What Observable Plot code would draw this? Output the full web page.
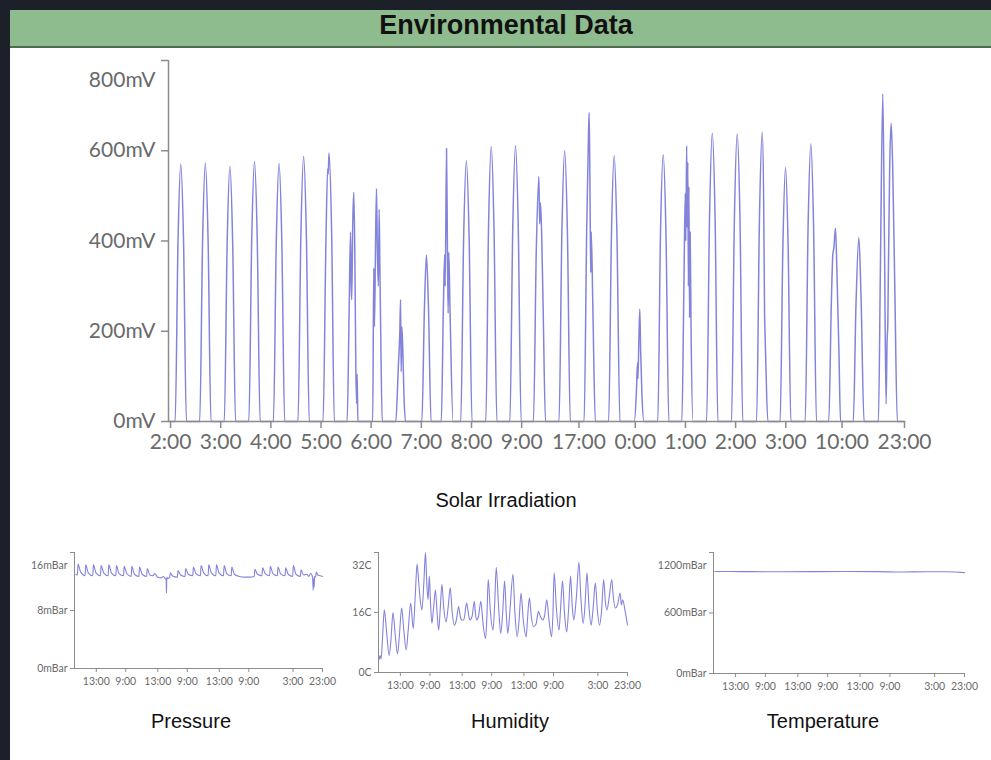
<!DOCTYPE html>
<html>
<head>
<meta charset="utf-8">
<script src="https://cdn.jsdelivr.net/npm/d3@7"></script>
<script src="https://cdn.jsdelivr.net/npm/@observablehq/plot@0.6"></script>
<style>
  html, body { margin: 0; padding: 0; background: #1c2029; width: 991px; height: 760px; overflow: hidden; }
  #page { position: absolute; left: 10px; top: 10px; width: 992px; height: 750px; background: #ffffff; }
  #header { position: absolute; left: 10px; top: 10px; width: 992px; height: 36px; background: #8fbc8f;
            border-bottom: 2px solid #4f6a4f; text-align: center; line-height: 36px;
            font: bold 27px "Liberation Sans", Arial, sans-serif; color: #111; z-index: 5; }
  .chart { position: absolute; }
  .cap { position: absolute; text-align: center; font: 20px "Liberation Sans", Arial, sans-serif; color: #111; line-height: 24px; }
</style>
</head>
<body>
<div id="page"></div>
<div id="header">Environmental Data</div>
<div id="main" class="chart" style="left:0px;top:40px;"></div>
<div class="cap" style="left:10px;top:488px;width:992px;">Solar Irradiation</div>
<div id="pres" class="chart" style="left:0px;top:540px;"></div>
<div id="hum" class="chart" style="left:340px;top:540px;"></div>
<div id="temp" class="chart" style="left:640px;top:540px;"></div>
<div class="cap" style="left:91px;top:709px;width:200px;">Pressure</div>
<div class="cap" style="left:410px;top:709px;width:200px;">Humidity</div>
<div class="cap" style="left:723px;top:709px;width:200px;">Temperature</div>
<script>
// ---------- DATA (x = hours since start) ----------
const mainTickHours = [2, 51, 100, 149, 198, 247, 296, 345, 401, 456, 505, 554, 603, 658, 719];
const mainTickLabels = ["2:00","3:00","4:00","5:00","6:00","7:00","8:00","9:00","17:00","0:00","1:00","2:00","3:00","10:00","23:00"];
const smallTickHours = [13, 105, 205, 297, 397, 489, 627, 719];
const smallTickLabels = ["13:00","9:00","13:00","9:00","13:00","9:00","3:00","23:00"];

const solarYTicks = [0, 200, 400, 600, 800];
const solarYLabels = ["0mV","200mV","400mV","600mV","800mV"];
const pressureYTicks = [0, 8, 16];
const pressureYLabels = ["0mBar","8mBar","16mBar"];
const humidityYTicks = [0, 16, 32];
const humidityYLabels = ["0C","16C","32C"];
const temperatureYTicks = [0, 600, 1200];
const temperatureYLabels = ["0mBar","600mBar","1200mBar"];

// Solar irradiation [hour, mV]
const solar = [
[0,0],
[6.5,0],[9.3,400],[12,570],[14.7,400],[17.5,0],
[30.5,0],[33.3,400],[36,573],[38.7,400],[41.5,0],
[54.5,0],[57.3,395],[60,565],[62.7,395],[65.5,0],
[78.5,0],[81.3,403],[84,576],[86.7,403],[89.5,0],
[102.5,0],[105.3,400],[108,572],[110.7,400],[113.5,0],
[126.5,0],[129.3,410],[132,587],[134.7,410],[137.5,0],
[151,0],[153.8,400],[155.5,560],[156,548],[156.8,595],[159.4,415],[162,0],
[174.5,0],[176.5,250],[177.8,420],[178.5,300],[179,270],[180,440],[181,508],[182,380],[183,120],[183.8,40],[184.3,105],[185,0],
[199.5,0],[200.5,340],[201.2,210],[202.3,400],[203.2,516],[204,380],[205,300],[205.8,470],[206.5,340],[207.3,200],[208.8,0],
[222,0],[224.5,120],[226,200],[226.7,270],[227.3,110],[228,210],[229,150],[230,60],[231.5,0],
[247.5,0],[250,250],[252,369],[254,250],[256.5,0],
[266.5,0],[268.5,250],[269.8,370],[270.3,300],[271.6,605],[272.5,380],[273.2,240],[273.8,375],[275,250],[278,0],
[285.5,0],[288.3,405],[291,578],[293.7,405],[296.5,0],
[310,0],[312.6,425],[315.3,609],[318,425],[320.8,0],
[333.5,0],[336.3,428],[339,611],[341.7,428],[344.5,0],
[356.5,0],[359.3,380],[361.8,543],[362.6,438],[363.4,485],[364.5,420],[366,250],[368.3,0],
[381.5,0],[384.3,420],[387,600],[389.7,420],[392.5,0],
[406,0],[408.5,420],[410.3,640],[411,685],[411.8,500],[412.5,330],[413,420],[414.5,260],[417,0],
[430,0],[432.7,412],[435.4,589],[438.1,412],[441,0],
[455,0],[457,60],[458.2,130],[458.6,95],[459.5,180],[460.4,249],[461.2,160],[462.5,60],[464.5,0],
[478,0],[480.6,414],[483.3,591],[486,414],[488.8,0],
[501.5,0],[503.5,300],[504.8,505],[505.4,400],[506.2,611],[506.8,430],[507.3,574],[507.9,300],[508.4,520],[509,230],[509.6,420],[510.5,200],[512.5,0],
[525.7,0],[528.5,447],[531.2,639],[534,447],[536.7,0],
[550,0],[552.8,446],[555.6,637],[558.3,446],[561,0],
[574.5,0],[577.3,450],[580,641],[581.5,470],[582.3,240],[582.6,208],[583.3,150],[585.5,0],
[597.5,0],[600.2,390],[602.8,563],[605.3,390],[608,0],
[622,0],[624.8,430],[627.5,615],[630.2,430],[633,0],
[645,0],[647.5,260],[649,370],[650,385],[651.6,429],[653,330],[655,150],[656.5,0],
[669,0],[671.5,250],[674.4,408],[676.5,280],[679.5,0],
[693.5,0],[695.5,350],[697.8,726],[699.5,380],[701,39],[702,180],[702.7,216],[703.1,300],[704.5,560],[706,661],[707.5,560],[709.5,300],[712,0],
[719,0]
];

// Pressure [hour, mBar]
const pressure = [
[-51,13.0],[-46,12.9],[-44,14.4],[-36,13.3],
[-22,12.8],[-20,14.3],[-12,13.2],
[2,12.8],[4,14.3],[12,13.2],
[26,12.8],[28,14.2],[36,13.2],
[50,12.8],[52,14.3],[60,13.2],
[74,12.8],[76,14.2],[84,13.1],
[98,12.8],[100,14.1],[108,13.1],
[122,12.7],[124,14.1],[132,13.0],
[146,12.7],[148,14.0],[156,13.0],
[170,12.7],[172,13.8],[180,12.9],
[190,12.8],[196,13.1],[204,12.6],[215,12.5],[222,12.7],[228,12.4],[231,12.3],[232,10.4],[233,12.6],[236,12.4],
[242,12.6],[244,13.2],[250,12.8],
[266,12.6],[268,13.5],[276,12.9],
[290,12.7],[292,13.8],[300,13.0],
[314,12.8],[316,14.0],[324,13.1],
[338,12.8],[340,14.2],[348,13.2],
[362,12.8],[364,14.3],[372,13.2],
[386,12.8],[388,14.3],[396,13.2],
[410,12.8],[412,14.2],[420,13.1],
[434,12.8],[436,14.0],[444,13.0],
[460,12.7],[475,12.6],[490,12.6],
[506,12.7],[508,13.7],[516,13.0],
[530,12.8],[532,13.9],[540,13.1],
[554,12.8],[556,14.1],[564,13.1],
[578,12.8],[580,14.0],[588,13.1],
[602,12.8],[604,13.9],[612,13.0],
[626,12.7],[628,14.2],[636,13.0],
[650,12.7],[652,13.6],[660,12.9],
[670,13.0],[676,12.7],[682,13.1],[688,12.6],[690,10.8],[691,12.4],[693,11.2],[694,12.7],[697,12.6],[700,13.3],[704,12.9],[712,12.8],[719,12.7]
];

// Humidity [hour, C]
const humidity = [
[-53,3.5],[-50,4.5],[-47,3.6],[-42,10],[-37,16.7],[-30,11],[-22,4.5],[-16,9],[-10,16],[-3,10],[4,5],[10,10],[17,17.2],[24,11],[31,6],[38,12],[45,18.5],[53,11.7],[59,20],[65,28.9],[70,24],[74,19.9],[80,16.7],[86,24],[91,32],[95,24],[99,19.4],[103,25.7],[107,18],[111,13.1],[116,17],[122,22],[127,16],[132,11.3],[137,17],[142,23.5],[148,17],[155,13.5],[161,17],[168,22.6],[174,16],[181,12.6],[187,14],[194,17.6],[199,15],[204,14],[210,14],[219,18.5],[224,16],[229,14],[236,15],[243,19],[246,16],[250,14],[256,15],[263,19],[270,13],[278,9],[282,15],[286,24.8],[293,16],[301,11.3],[306,18],[311,28],[318,18],[325,10.4],[331,16],[337,24.4],[342,16],[347,10.4],[354,17],[363,26.2],[369,16],[376,9.5],[382,14],[388,21.2],[395,14],[404,9.5],[408,14],[414,19.9],[420,15],[427,12.2],[435,13],[442,16.3],[448,15],[455,14],[461,15],[468,19.4],[475,14],[483,9.5],[487,15],[491,26.6],[498,17],[506,11.3],[511,17],[517,24.4],[523,16],[530,10.8],[536,17],[542,25.7],[547,18],[552,14],[560,20],[568,29.4],[574,20],[581,13.1],[587,18],[593,26.6],[599,18],[606,12.6],[612,17],[619,23.9],[625,17],[632,12.6],[638,16],[645,24.8],[650,19],[655,16.7],[662,20],[670,24.8],[675,20],[681,17.2],[688,18],[696,21.2],[700,18],[704,19.4],[711,16.7],[719,12.6]
];

// Temperature panel (values in mBar as labelled) [hour, value]
const temperature = [
[-51,1012],[0,1011],[60,1010],[150,1009],[250,1010],[350,1011],[450,1010],[520,1006],[600,1009],[660,1009],[690,1006],[705,1003],[719,1000]
];

// ---------- CHART BUILDER ----------
const LINE = "#8383dc";
const AXIS = "#8c8c8c";
const TEXT = "#6a6a6a";

function chart(o) {
  const yLab = new Map(o.yTicks.map((t, i) => [t, i === o.yTicks.length - 1 ? "" : o.yLabels[i]]));
  const xLab = new Map(o.xTicks.map((t, i) => [t, o.xLabels[i]]));
  const topVal = o.yTicks[o.yTicks.length - 1];
  const topText = o.yLabels[o.yLabels.length - 1];
  return Plot.plot({
    width: o.width, height: o.height,
    marginLeft: o.ml, marginRight: o.mr, marginTop: o.mt, marginBottom: o.mb,
    x: {type: "linear", domain: o.xDomain},
    y: {type: "linear", domain: [0, topVal]},
    style: {fontFamily: "Lato, sans-serif", fontSize: o.font + "px", background: "transparent", overflow: "visible"},
    marks: [
      Plot.line(o.data, {x: d => d[0], y: d => d[1], curve: "monotone-x", stroke: LINE, strokeWidth: o.sw}),
      Plot.ruleX([o.xDomain[0]], {stroke: AXIS, strokeWidth: o.aw}),
      Plot.ruleY([0], {stroke: AXIS, strokeWidth: o.aw}),
      Plot.axisX({ticks: o.xTicks, tickFormat: d => xLab.get(d), tickSize: o.tick, tickPadding: o.xpad,
                  stroke: AXIS, strokeWidth: o.aw, fill: TEXT, label: null, fontSize: o.xfont}),
      Plot.axisY({ticks: o.yTicks, tickFormat: d => yLab.get(d), tickSize: o.tick, tickPadding: o.ypad,
                  stroke: AXIS, strokeWidth: o.aw, fill: TEXT, label: null, fontSize: o.yfont}),
      Plot.text([topText], {y: [topVal], text: d => d, frameAnchor: "left", textAnchor: "end",
                  dx: -(o.tick + o.ypad), dy: o.topDy, fill: TEXT, fontSize: o.yfont})
    ]
  });
}

document.getElementById("main").append(chart({
  data: solar, xDomain: [0, 719], xTicks: mainTickHours, xLabels: mainTickLabels,
  yTicks: solarYTicks, yLabels: solarYLabels,
  width: 991, height: 420, ml: 168, mr: 87, mt: 20, mb: 39,
  font: 21, xfont: 21, yfont: 21, tick: 7, xpad: 6, ypad: 6, sw: 1.5, aw: 1.5, topDy: 20
}));

const smallCommon = {xDomain: [-55, 719], xTicks: smallTickHours, xLabels: smallTickLabels,
  font: 10, xfont: 10.5, yfont: 10.5, tick: 4, xpad: 5, ypad: 3, sw: 1.1, aw: 1, topDy: 13, height: 160, mt: 12};

document.getElementById("pres").append(chart(Object.assign({}, smallCommon, {
  data: pressure, yTicks: pressureYTicks, yLabels: pressureYLabels,
  width: 340, ml: 74, mr: 18, mb: 32
})));
document.getElementById("hum").append(chart(Object.assign({}, smallCommon, {
  data: humidity, yTicks: humidityYTicks, yLabels: humidityYLabels,
  width: 310, ml: 38, mr: 23, mb: 28
})));
document.getElementById("temp").append(chart(Object.assign({}, smallCommon, {
  data: temperature, yTicks: temperatureYTicks, yLabels: temperatureYLabels,
  width: 351, ml: 73, mr: 27, mb: 27
})));
</script>
</body>
</html>
